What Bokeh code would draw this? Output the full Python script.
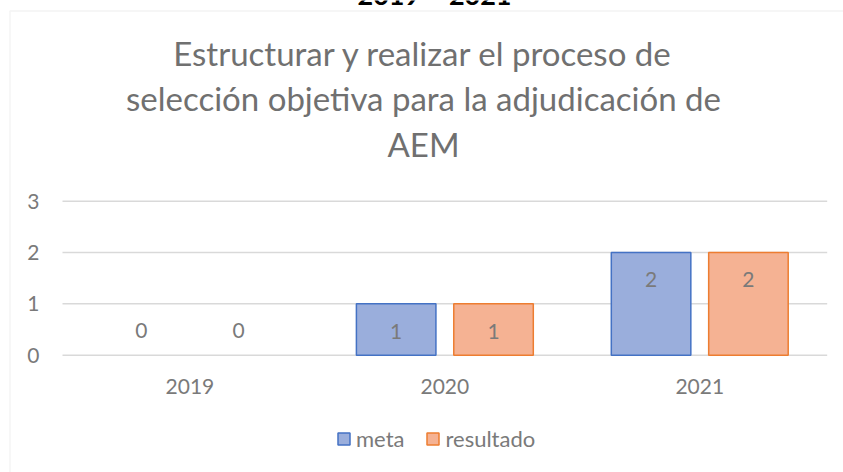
from bokeh.plotting import figure
from bokeh.models import (ColumnDataSource, Range1d, FixedTicker, Label, Legend,
                          LegendItem, BoxAnnotation)
from bokeh.core.properties import value
from bokeh.embed import file_html
from bokeh.resources import INLINE

# ---- data ----
years = ["2019", "2020", "2021"]
meta = [0, 1, 2]
resultado = [0, 1, 2]
y_ticks = [0, 1, 2, 3]
series_names = ["meta", "resultado"]
title_lines = ["Estructurar y realizar el proceso de",
               "selección objetiva para la adjudicación de",
               "AEM"]
heading = "2019 – 2021"

# ---- layout constants (canvas pixels) ----
W, H = 843, 472
X_LEFT = 62.0            # page x of the left edge of the first category
CAT = 254.9              # pixels per category
Y0 = 354.7               # page y of value 0
PX_UNIT = 51.33          # pixels per y unit
FONT = "Lato"
GRAY = "#7a7a7a"
TITLE_GRAY = "#707070"
META_FILL, META_LINE = "#9aaedc", "#4472c4"
RES_FILL, RES_LINE = "#f5b293", "#ed7d31"
OFF, BW = 0.191, 0.312
LABEL_SHIFT = 0.42       # empirical baseline correction (fraction of font size)


def ydata(py):
    return (Y0 - py) / PX_UNIT


def xdata(px):
    return (px - X_LEFT) / CAT - 0.5


def lab_y(v):
    return v - 0.53 if v > 0 else 0.48


xs = list(range(len(years)))
src = ColumnDataSource(dict(
    meta_x=[x - OFF for x in xs], res_x=[x + OFF for x in xs],
    meta=meta, resultado=resultado,
    meta_lab=[str(v) for v in meta], res_lab=[str(v) for v in resultado],
    meta_ly=[lab_y(v) for v in meta], res_ly=[lab_y(v) for v in resultado],
    meta_la=[1.0 if v > 0 else 0.0 for v in meta],
    res_la=[1.0 if v > 0 else 0.0 for v in resultado],
))

p = figure(width=W, height=H,
           x_range=Range1d(xdata(0), xdata(W)),
           y_range=Range1d(ydata(H), ydata(0)),
           output_backend="svg", toolbar_location=None,
           min_border_left=0, min_border_right=0,
           min_border_top=0, min_border_bottom=0)
p.outline_line_color = None
p.background_fill_color = "white"
p.border_fill_color = "white"
p.xgrid.grid_line_color = None
p.ygrid.grid_line_color = None

# horizontal gridlines spanning the category area only
p.segment(x0=-0.5, x1=len(years) - 0.5, y0=y_ticks, y1=y_ticks,
          line_color="#d9d9d9", line_width=1.5)

# axes drawn at fixed positions inside the frame
p.yaxis.fixed_location = -0.5
p.yaxis.ticker = FixedTicker(ticks=y_ticks)
p.xaxis.fixed_location = 0
p.xaxis.ticker = FixedTicker(ticks=xs)
p.xaxis.major_label_overrides = {x: y for x, y in zip(xs, years)}
for ax in (p.xaxis, p.yaxis):
    ax.axis_line_color = None
    ax.major_tick_line_color = None
    ax.minor_tick_line_color = None
    ax.major_tick_out = 0
    ax.major_tick_in = 0
    ax.minor_tick_out = 0
    ax.major_label_text_font = FONT
    ax.major_label_text_font_size = "21px"
    ax.major_label_text_color = GRAY
p.yaxis.major_label_standoff = 23
p.xaxis.major_label_standoff = 24

r_meta = p.vbar(x="meta_x", top="meta", bottom=0, width=BW, source=src,
                fill_color=META_FILL, line_color=META_LINE, line_width=1.5,
                line_alpha="meta_la")
r_res = p.vbar(x="res_x", top="resultado", bottom=0, width=BW, source=src,
               fill_color=RES_FILL, line_color=RES_LINE, line_width=1.5,
               line_alpha="res_la")

p.text(x="meta_x", y="meta_ly", text="meta_lab", source=src,
       text_align="center", text_baseline="middle",
       text_font=value(FONT), text_font_size="21px", text_color=GRAY)
p.text(x="res_x", y="res_ly", text="res_lab", source=src,
       text_align="center", text_baseline="middle",
       text_font=value(FONT), text_font_size="21px", text_color=GRAY)

# outer chart box (only its left and top edges fall inside the window)
p.add_layout(BoxAnnotation(left=xdata(9.5), right=xdata(W + 50),
                           top=ydata(10.5), bottom=ydata(H + 50),
                           fill_alpha=0, line_color="#d9d9d9", line_width=1.5))

# heading (partially cut off at the top)
HEAD_FS = 27
p.add_layout(Label(x=xdata(434), y=ydata(5.5 - LABEL_SHIFT * HEAD_FS), text=heading,
                   text_align="center", text_baseline="alphabetic", text_font=FONT,
                   text_font_style="bold", text_font_size=f"{HEAD_FS}px",
                   text_color="black"))

# chart title
TITLE_FS = 33
for line, base in zip(title_lines, [66.0, 111.5, 157.5]):
    p.add_layout(Label(x=xdata(423), y=ydata(base - LABEL_SHIFT * TITLE_FS), text=line,
                       text_align="center", text_baseline="alphabetic", text_font=FONT,
                       text_font_size=f"{TITLE_FS}px", text_color=TITLE_GRAY))

legend = Legend(items=[LegendItem(label=series_names[0], renderers=[r_meta], index=2),
                       LegendItem(label=series_names[1], renderers=[r_res], index=2)],
                orientation="horizontal", location=(336, 20), padding=0, margin=0,
                spacing=21, label_standoff=5, glyph_width=15, glyph_height=15,
                border_line_color=None, background_fill_alpha=0,
                label_text_font=FONT, label_text_font_size="22px",
                label_text_color=GRAY)
p.add_layout(legend)

open("out.html", "w").write(file_html(p, INLINE))
